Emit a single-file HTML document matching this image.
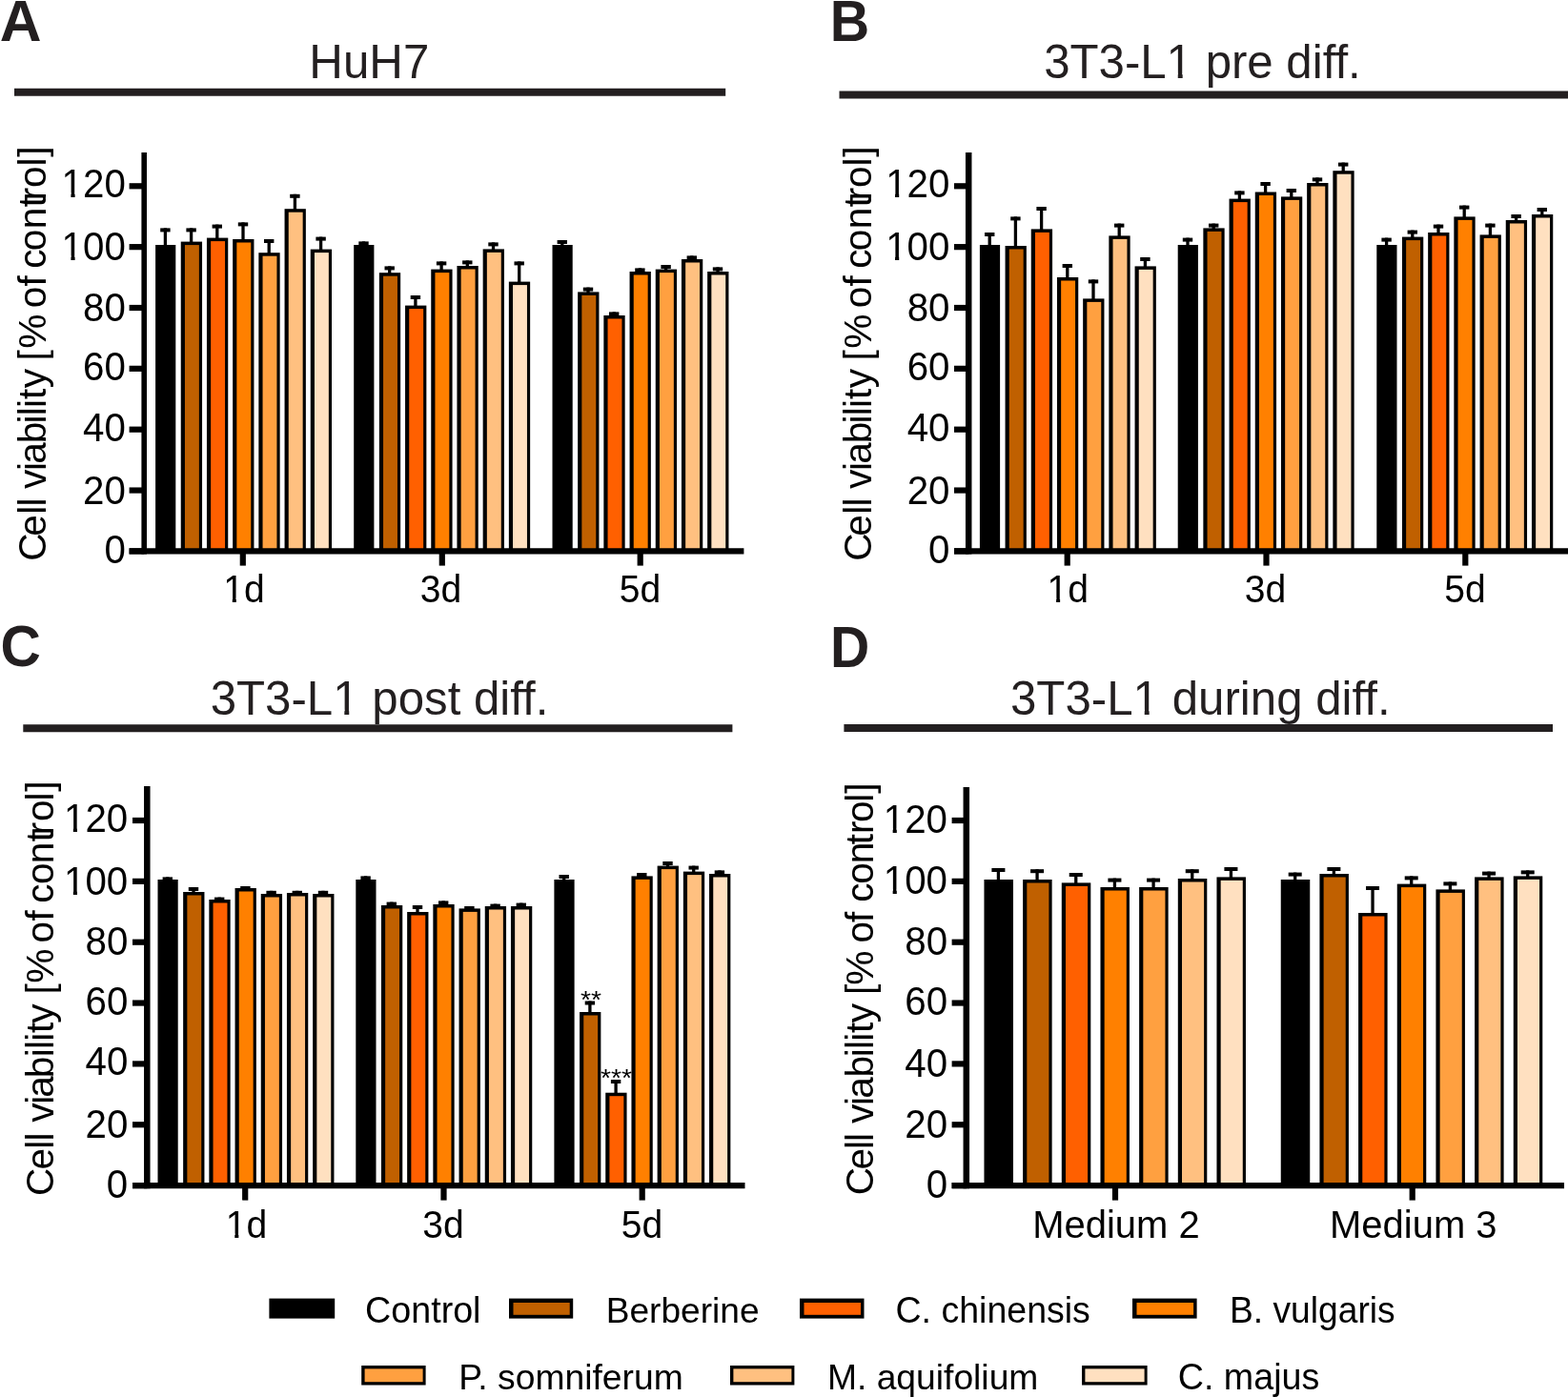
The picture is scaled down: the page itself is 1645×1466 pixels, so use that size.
<!DOCTYPE html>
<html lang="en">
<head>
<meta charset="utf-8">
<title>Cell viability</title>
<style>
html,body{margin:0;padding:0;background:#fff;}
body{width:1645px;height:1466px;overflow:hidden;}
svg{display:block;font-family:"Liberation Sans", sans-serif;}
svg text{white-space:pre;}
</style>
</head>
<body>
<svg width="1645" height="1466" viewBox="0 0 1645 1466">
<defs>
<clipPath id="c1" clipPathUnits="userSpaceOnUse"><rect x="-40.3" y="-48.36" width="147.84" height="43.75"/><rect x="-40.3" y="-5.61" width="42.07" height="20.15"/><rect x="9.83" y="-5.61" width="4.16" height="20.15"/><rect x="21.74" y="-5.61" width="85.79" height="20.15"/></clipPath>
<clipPath id="c2" clipPathUnits="userSpaceOnUse"><rect x="-40.3" y="-48.36" width="147.84" height="43.75"/><rect x="-40.3" y="-5.61" width="42.07" height="20.15"/><rect x="9.83" y="-5.61" width="4.16" height="20.15"/><rect x="21.74" y="-5.61" width="85.79" height="20.15"/></clipPath>
<clipPath id="c3" clipPathUnits="userSpaceOnUse"><rect x="-40.3" y="-48.36" width="125.43" height="43.75"/><rect x="-40.3" y="-5.61" width="42.07" height="20.15"/><rect x="9.83" y="-5.61" width="4.16" height="20.15"/><rect x="21.74" y="-5.61" width="63.38" height="20.15"/></clipPath>
<clipPath id="c4" clipPathUnits="userSpaceOnUse"><rect x="-49.5" y="-59.4" width="434.67" height="54.1"/><rect x="-49.5" y="-6.3" width="180.98" height="24.75"/><rect x="141.46" y="-6.3" width="4.97" height="24.75"/><rect x="156.02" y="-6.3" width="229.16" height="24.75"/></clipPath>
<clipPath id="c5" clipPathUnits="userSpaceOnUse"><rect x="-49.5" y="-59.4" width="456.69" height="54.1"/><rect x="-49.5" y="-6.3" width="180.98" height="24.75"/><rect x="141.46" y="-6.3" width="4.97" height="24.75"/><rect x="156.02" y="-6.3" width="251.17" height="24.75"/></clipPath>
<clipPath id="c6" clipPathUnits="userSpaceOnUse"><rect x="-49.5" y="-59.4" width="500.73" height="54.1"/><rect x="-49.5" y="-6.3" width="180.98" height="24.75"/><rect x="141.46" y="-6.3" width="4.97" height="24.75"/><rect x="156.02" y="-6.3" width="295.21" height="24.75"/></clipPath>
</defs>
<rect x="0" y="0" width="1645" height="1466" fill="#ffffff"/>
<g id="panel-A">
<rect x="163.1" y="257" width="21.2" height="321.4" fill="#000000"/>
<rect x="171.75" y="239.4" width="3.3" height="18.6" fill="#000"/>
<rect x="168.2" y="239.4" width="10.4" height="4" fill="#000"/>
<rect x="189.75" y="253.6" width="22.3" height="324.8" fill="#000000"/>
<rect x="193.95" y="257.1" width="14.9" height="321.3" fill="#C06000"/>
<rect x="198.95" y="239.4" width="3.3" height="15.2" fill="#000"/>
<rect x="195.4" y="239.4" width="10.4" height="4" fill="#000"/>
<rect x="216.95" y="249.6" width="22.3" height="328.8" fill="#000000"/>
<rect x="221.15" y="253.1" width="14.9" height="325.3" fill="#FF6000"/>
<rect x="226.15" y="235.6" width="3.3" height="15" fill="#000"/>
<rect x="222.6" y="235.6" width="10.4" height="4" fill="#000"/>
<rect x="244.15" y="251" width="22.3" height="327.4" fill="#000000"/>
<rect x="248.35" y="254.5" width="14.9" height="323.9" fill="#FF8000"/>
<rect x="253.35" y="233.4" width="3.3" height="18.6" fill="#000"/>
<rect x="249.8" y="233.4" width="10.4" height="4" fill="#000"/>
<rect x="271.35" y="265.2" width="22.3" height="313.2" fill="#000000"/>
<rect x="275.55" y="268.7" width="14.9" height="309.7" fill="#FFA040"/>
<rect x="280.55" y="251" width="3.3" height="15.2" fill="#000"/>
<rect x="277" y="251" width="10.4" height="4" fill="#000"/>
<rect x="298.55" y="219.2" width="22.3" height="359.2" fill="#000000"/>
<rect x="302.75" y="222.7" width="14.9" height="355.7" fill="#FFC080"/>
<rect x="307.75" y="203.8" width="3.3" height="16.4" fill="#000"/>
<rect x="304.2" y="203.8" width="10.4" height="4" fill="#000"/>
<rect x="325.75" y="261.6" width="22.3" height="316.8" fill="#000000"/>
<rect x="329.95" y="265.1" width="14.9" height="313.3" fill="#FFE0C0"/>
<rect x="334.95" y="248.6" width="3.3" height="14" fill="#000"/>
<rect x="331.4" y="248.6" width="10.4" height="4" fill="#000"/>
<rect x="371.2" y="257" width="21.2" height="321.4" fill="#000000"/>
<rect x="379.85" y="253.4" width="3.3" height="4.6" fill="#000"/>
<rect x="376.3" y="253.4" width="10.4" height="4" fill="#000"/>
<rect x="397.85" y="286.2" width="22.3" height="292.2" fill="#000000"/>
<rect x="402.05" y="289.7" width="14.9" height="288.7" fill="#C06000"/>
<rect x="407.05" y="279.4" width="3.3" height="7.8" fill="#000"/>
<rect x="403.5" y="279.4" width="10.4" height="4" fill="#000"/>
<rect x="425.05" y="320.6" width="22.3" height="257.8" fill="#000000"/>
<rect x="429.25" y="324.1" width="14.9" height="254.3" fill="#FF6000"/>
<rect x="434.25" y="310" width="3.3" height="11.6" fill="#000"/>
<rect x="430.7" y="310" width="10.4" height="4" fill="#000"/>
<rect x="452.25" y="282.6" width="22.3" height="295.8" fill="#000000"/>
<rect x="456.45" y="286.1" width="14.9" height="292.3" fill="#FF8000"/>
<rect x="461.45" y="274.4" width="3.3" height="9.2" fill="#000"/>
<rect x="457.9" y="274.4" width="10.4" height="4" fill="#000"/>
<rect x="479.45" y="279" width="22.3" height="299.4" fill="#000000"/>
<rect x="483.65" y="282.5" width="14.9" height="295.9" fill="#FFA040"/>
<rect x="488.65" y="273.4" width="3.3" height="6.6" fill="#000"/>
<rect x="485.1" y="273.4" width="10.4" height="4" fill="#000"/>
<rect x="506.65" y="261.4" width="22.3" height="317" fill="#000000"/>
<rect x="510.85" y="264.9" width="14.9" height="313.5" fill="#FFC080"/>
<rect x="515.85" y="254.4" width="3.3" height="8" fill="#000"/>
<rect x="512.3" y="254.4" width="10.4" height="4" fill="#000"/>
<rect x="533.85" y="295.6" width="22.3" height="282.8" fill="#000000"/>
<rect x="538.05" y="299.1" width="14.9" height="279.3" fill="#FFE0C0"/>
<rect x="543.05" y="274.4" width="3.3" height="22.2" fill="#000"/>
<rect x="539.5" y="274.4" width="10.4" height="4" fill="#000"/>
<rect x="579.5" y="257" width="21.2" height="321.4" fill="#000000"/>
<rect x="588.15" y="252" width="3.3" height="6" fill="#000"/>
<rect x="584.6" y="252" width="10.4" height="4" fill="#000"/>
<rect x="606.15" y="306.4" width="22.3" height="272" fill="#000000"/>
<rect x="610.35" y="309.9" width="14.9" height="268.5" fill="#C06000"/>
<rect x="615.35" y="301.6" width="3.3" height="5.8" fill="#000"/>
<rect x="611.8" y="301.6" width="10.4" height="4" fill="#000"/>
<rect x="633.35" y="331" width="22.3" height="247.4" fill="#000000"/>
<rect x="637.55" y="334.5" width="14.9" height="243.9" fill="#FF6000"/>
<rect x="642.55" y="327.4" width="3.3" height="4.6" fill="#000"/>
<rect x="639" y="327.4" width="10.4" height="4" fill="#000"/>
<rect x="660.55" y="285" width="22.3" height="293.4" fill="#000000"/>
<rect x="664.75" y="288.5" width="14.9" height="289.9" fill="#FF8000"/>
<rect x="669.75" y="281.4" width="3.3" height="4.6" fill="#000"/>
<rect x="666.2" y="281.4" width="10.4" height="4" fill="#000"/>
<rect x="687.75" y="282.6" width="22.3" height="295.8" fill="#000000"/>
<rect x="691.95" y="286.1" width="14.9" height="292.3" fill="#FFA040"/>
<rect x="696.95" y="278" width="3.3" height="5.6" fill="#000"/>
<rect x="693.4" y="278" width="10.4" height="4" fill="#000"/>
<rect x="714.95" y="272" width="22.3" height="306.4" fill="#000000"/>
<rect x="719.15" y="275.5" width="14.9" height="302.9" fill="#FFC080"/>
<rect x="724.15" y="268.4" width="3.3" height="4.6" fill="#000"/>
<rect x="720.6" y="268.4" width="10.4" height="4" fill="#000"/>
<rect x="742.15" y="285" width="22.3" height="293.4" fill="#000000"/>
<rect x="746.35" y="288.5" width="14.9" height="289.9" fill="#FFE0C0"/>
<rect x="751.35" y="280.4" width="3.3" height="5.6" fill="#000"/>
<rect x="747.8" y="280.4" width="10.4" height="4" fill="#000"/>
<line x1="135.6" y1="578.4" x2="780.4" y2="578.4" stroke="#000" stroke-width="6.2"/>
<line x1="151.2" y1="160" x2="151.2" y2="581.5" stroke="#000" stroke-width="5.6"/>
<line x1="135.6" y1="578.4" x2="151.2" y2="578.4" stroke="#000" stroke-width="6.2"/>
<text transform="translate(109.44,591) scale(1.0000,1.0550)" font-size="40.3" fill="#000">0</text>
<line x1="135.6" y1="514.55" x2="151.2" y2="514.55" stroke="#000" stroke-width="6.2"/>
<text transform="translate(87.08,529) scale(1.0000,1.0550)" font-size="40.3" fill="#000">20</text>
<line x1="135.6" y1="450.7" x2="151.2" y2="450.7" stroke="#000" stroke-width="6.2"/>
<text transform="translate(87.08,463) scale(1.0000,1.0550)" font-size="40.3" fill="#000">40</text>
<line x1="135.6" y1="386.85" x2="151.2" y2="386.85" stroke="#000" stroke-width="6.2"/>
<text transform="translate(87.08,399) scale(1.0000,1.0550)" font-size="40.3" fill="#000">60</text>
<line x1="135.6" y1="323" x2="151.2" y2="323" stroke="#000" stroke-width="6.2"/>
<text transform="translate(87.08,337) scale(1.0000,1.0550)" font-size="40.3" fill="#000">80</text>
<line x1="135.6" y1="259.15" x2="151.2" y2="259.15" stroke="#000" stroke-width="6.2"/>
<text transform="translate(64.61,273) scale(1.0000,1.0550)" font-size="40.3" fill="#000" clip-path="url(#c1)">100</text>
<line x1="135.6" y1="195.3" x2="151.2" y2="195.3" stroke="#000" stroke-width="6.2"/>
<text transform="translate(64.61,207) scale(1.0000,1.0550)" font-size="40.3" fill="#000" clip-path="url(#c2)">120</text>
<line x1="254.8" y1="578.4" x2="254.8" y2="593.6" stroke="#000" stroke-width="6.2"/>
<text transform="translate(234.26,632) scale(0.9700,1.0100)" font-size="40.3" fill="#000" clip-path="url(#c3)">1d</text>
<line x1="463.8" y1="578.4" x2="463.8" y2="593.6" stroke="#000" stroke-width="6.2"/>
<text transform="translate(440.79,632) scale(0.9700,1.0100)" font-size="40.3" fill="#000">3d</text>
<line x1="671.7" y1="578.4" x2="671.7" y2="593.6" stroke="#000" stroke-width="6.2"/>
<text transform="translate(649.74,632) scale(0.9700,1.0100)" font-size="40.3" fill="#000">5d</text>
<text transform="translate(47.9,0) rotate(-90) scale(1.0,1.02)" x="-588.82 -562.72 -539.82 -531.59 -522.57 -512.95 -493.97 -486.78 -465.22 -444.44 -436.22 -427.94 -419.09 -407.35 -387.05 -378.45 -365.87 -329.77 -323.22 -300.59 -289.31 -281.83 -263.32 -240.27 -217.14 -210.22 -197.07 -174.52 -164.86" y="0" font-size="40.6" fill="#000">Cell viability [% of control]</text>
<text transform="translate(324.33,82) scale(0.9957,1.0150)" font-size="49.5" fill="#231f20">HuH7</text>
<line x1="15" y1="96.8" x2="761.2" y2="96.8" stroke="#231f20" stroke-width="8"/>
<text transform="translate(-0.31,43) scale(1.0016,1.0000)" font-size="60.5" fill="#231f20" font-weight="bold">A</text>
</g>
<g id="panel-B">
<rect x="1027.9" y="257" width="21.2" height="321.4" fill="#000000"/>
<rect x="1036.55" y="244" width="3.3" height="14" fill="#000"/>
<rect x="1033" y="244" width="10.4" height="4" fill="#000"/>
<rect x="1054.55" y="258" width="22.3" height="320.4" fill="#000000"/>
<rect x="1058.75" y="261.5" width="14.9" height="316.9" fill="#C06000"/>
<rect x="1063.75" y="227.4" width="3.3" height="31.6" fill="#000"/>
<rect x="1060.2" y="227.4" width="10.4" height="4" fill="#000"/>
<rect x="1081.75" y="240.4" width="22.3" height="338" fill="#000000"/>
<rect x="1085.95" y="243.9" width="14.9" height="334.5" fill="#FF6000"/>
<rect x="1090.95" y="217" width="3.3" height="24.4" fill="#000"/>
<rect x="1087.4" y="217" width="10.4" height="4" fill="#000"/>
<rect x="1108.95" y="291" width="22.3" height="287.4" fill="#000000"/>
<rect x="1113.15" y="294.5" width="14.9" height="283.9" fill="#FF8000"/>
<rect x="1118.15" y="277" width="3.3" height="15" fill="#000"/>
<rect x="1114.6" y="277" width="10.4" height="4" fill="#000"/>
<rect x="1136.15" y="313.4" width="22.3" height="265" fill="#000000"/>
<rect x="1140.35" y="316.9" width="14.9" height="261.5" fill="#FFA040"/>
<rect x="1145.35" y="293.4" width="3.3" height="21" fill="#000"/>
<rect x="1141.8" y="293.4" width="10.4" height="4" fill="#000"/>
<rect x="1163.35" y="247.4" width="22.3" height="331" fill="#000000"/>
<rect x="1167.55" y="250.9" width="14.9" height="327.5" fill="#FFC080"/>
<rect x="1172.55" y="234.6" width="3.3" height="13.8" fill="#000"/>
<rect x="1169" y="234.6" width="10.4" height="4" fill="#000"/>
<rect x="1190.55" y="279.4" width="22.3" height="299" fill="#000000"/>
<rect x="1194.75" y="282.9" width="14.9" height="295.5" fill="#FFE0C0"/>
<rect x="1199.75" y="270" width="3.3" height="10.4" fill="#000"/>
<rect x="1196.2" y="270" width="10.4" height="4" fill="#000"/>
<rect x="1235.7" y="257" width="21.2" height="321.4" fill="#000000"/>
<rect x="1244.35" y="249.6" width="3.3" height="8.4" fill="#000"/>
<rect x="1240.8" y="249.6" width="10.4" height="4" fill="#000"/>
<rect x="1262.35" y="239.4" width="22.3" height="339" fill="#000000"/>
<rect x="1266.55" y="242.9" width="14.9" height="335.5" fill="#C06000"/>
<rect x="1271.55" y="234.6" width="3.3" height="5.8" fill="#000"/>
<rect x="1268" y="234.6" width="10.4" height="4" fill="#000"/>
<rect x="1289.55" y="208.6" width="22.3" height="369.8" fill="#000000"/>
<rect x="1293.75" y="212.1" width="14.9" height="366.3" fill="#FF6000"/>
<rect x="1298.75" y="200.4" width="3.3" height="9.2" fill="#000"/>
<rect x="1295.2" y="200.4" width="10.4" height="4" fill="#000"/>
<rect x="1316.75" y="201.5" width="22.3" height="376.9" fill="#000000"/>
<rect x="1320.95" y="205" width="14.9" height="373.4" fill="#FF8000"/>
<rect x="1325.95" y="191" width="3.3" height="11.5" fill="#000"/>
<rect x="1322.4" y="191" width="10.4" height="4" fill="#000"/>
<rect x="1343.95" y="206.4" width="22.3" height="372" fill="#000000"/>
<rect x="1348.15" y="209.9" width="14.9" height="368.5" fill="#FFA040"/>
<rect x="1353.15" y="198" width="3.3" height="9.4" fill="#000"/>
<rect x="1349.6" y="198" width="10.4" height="4" fill="#000"/>
<rect x="1371.15" y="192" width="22.3" height="386.4" fill="#000000"/>
<rect x="1375.35" y="195.5" width="14.9" height="382.9" fill="#FFC080"/>
<rect x="1380.35" y="186.4" width="3.3" height="6.6" fill="#000"/>
<rect x="1376.8" y="186.4" width="10.4" height="4" fill="#000"/>
<rect x="1398.35" y="179.2" width="22.3" height="399.2" fill="#000000"/>
<rect x="1402.55" y="182.7" width="14.9" height="395.7" fill="#FFE0C0"/>
<rect x="1407.55" y="170.6" width="3.3" height="9.6" fill="#000"/>
<rect x="1404" y="170.6" width="10.4" height="4" fill="#000"/>
<rect x="1444.3" y="257" width="21.2" height="321.4" fill="#000000"/>
<rect x="1452.95" y="249.6" width="3.3" height="8.4" fill="#000"/>
<rect x="1449.4" y="249.6" width="10.4" height="4" fill="#000"/>
<rect x="1470.95" y="248.6" width="22.3" height="329.8" fill="#000000"/>
<rect x="1475.15" y="252.1" width="14.9" height="326.3" fill="#C06000"/>
<rect x="1480.15" y="241.6" width="3.3" height="8" fill="#000"/>
<rect x="1476.6" y="241.6" width="10.4" height="4" fill="#000"/>
<rect x="1498.15" y="244" width="22.3" height="334.4" fill="#000000"/>
<rect x="1502.35" y="247.5" width="14.9" height="330.9" fill="#FF6000"/>
<rect x="1507.35" y="235.6" width="3.3" height="9.4" fill="#000"/>
<rect x="1503.8" y="235.6" width="10.4" height="4" fill="#000"/>
<rect x="1525.35" y="227.4" width="22.3" height="351" fill="#000000"/>
<rect x="1529.55" y="230.9" width="14.9" height="347.5" fill="#FF8000"/>
<rect x="1534.55" y="215.6" width="3.3" height="12.8" fill="#000"/>
<rect x="1531" y="215.6" width="10.4" height="4" fill="#000"/>
<rect x="1552.55" y="246.4" width="22.3" height="332" fill="#000000"/>
<rect x="1556.75" y="249.9" width="14.9" height="328.5" fill="#FFA040"/>
<rect x="1561.75" y="234.6" width="3.3" height="12.8" fill="#000"/>
<rect x="1558.2" y="234.6" width="10.4" height="4" fill="#000"/>
<rect x="1579.75" y="231" width="22.3" height="347.4" fill="#000000"/>
<rect x="1583.95" y="234.5" width="14.9" height="343.9" fill="#FFC080"/>
<rect x="1588.95" y="225" width="3.3" height="7" fill="#000"/>
<rect x="1585.4" y="225" width="10.4" height="4" fill="#000"/>
<rect x="1606.95" y="225" width="22.3" height="353.4" fill="#000000"/>
<rect x="1611.15" y="228.5" width="14.9" height="349.9" fill="#FFE0C0"/>
<rect x="1616.15" y="218" width="3.3" height="8" fill="#000"/>
<rect x="1612.6" y="218" width="10.4" height="4" fill="#000"/>
<line x1="1001" y1="578.4" x2="1645" y2="578.4" stroke="#000" stroke-width="6.2"/>
<line x1="1016.2" y1="160" x2="1016.2" y2="581.5" stroke="#000" stroke-width="6.5"/>
<line x1="1001" y1="578.4" x2="1016.2" y2="578.4" stroke="#000" stroke-width="6.2"/>
<text transform="translate(974.04,591) scale(1.0000,1.0550)" font-size="40.3" fill="#000">0</text>
<line x1="1001" y1="514.55" x2="1016.2" y2="514.55" stroke="#000" stroke-width="6.2"/>
<text transform="translate(951.68,529) scale(1.0000,1.0550)" font-size="40.3" fill="#000">20</text>
<line x1="1001" y1="450.7" x2="1016.2" y2="450.7" stroke="#000" stroke-width="6.2"/>
<text transform="translate(951.68,463) scale(1.0000,1.0550)" font-size="40.3" fill="#000">40</text>
<line x1="1001" y1="386.85" x2="1016.2" y2="386.85" stroke="#000" stroke-width="6.2"/>
<text transform="translate(951.68,399) scale(1.0000,1.0550)" font-size="40.3" fill="#000">60</text>
<line x1="1001" y1="323" x2="1016.2" y2="323" stroke="#000" stroke-width="6.2"/>
<text transform="translate(951.68,337) scale(1.0000,1.0550)" font-size="40.3" fill="#000">80</text>
<line x1="1001" y1="259.15" x2="1016.2" y2="259.15" stroke="#000" stroke-width="6.2"/>
<text transform="translate(929.21,273) scale(1.0000,1.0550)" font-size="40.3" fill="#000" clip-path="url(#c1)">100</text>
<line x1="1001" y1="195.3" x2="1016.2" y2="195.3" stroke="#000" stroke-width="6.2"/>
<text transform="translate(929.21,207) scale(1.0000,1.0550)" font-size="40.3" fill="#000" clip-path="url(#c2)">120</text>
<line x1="1119.7" y1="578.4" x2="1119.7" y2="593.6" stroke="#000" stroke-width="6.2"/>
<text transform="translate(1098.56,632) scale(0.9700,1.0100)" font-size="40.3" fill="#000" clip-path="url(#c3)">1d</text>
<line x1="1328.5" y1="578.4" x2="1328.5" y2="593.6" stroke="#000" stroke-width="6.2"/>
<text transform="translate(1305.79,632) scale(0.9700,1.0100)" font-size="40.3" fill="#000">3d</text>
<line x1="1537.3" y1="578.4" x2="1537.3" y2="593.6" stroke="#000" stroke-width="6.2"/>
<text transform="translate(1515.24,632) scale(0.9700,1.0100)" font-size="40.3" fill="#000">5d</text>
<text transform="translate(913.5,0) rotate(-90) scale(1.0,1.02)" x="-588.82 -562.72 -539.82 -531.59 -522.57 -512.95 -493.97 -486.78 -465.22 -444.44 -436.22 -427.94 -419.09 -407.35 -387.05 -378.45 -365.87 -329.77 -323.22 -300.59 -289.31 -281.83 -263.32 -240.27 -217.14 -210.22 -197.07 -174.52 -164.86" y="0" font-size="40.6" fill="#000">Cell viability [% of control]</text>
<text transform="translate(1095.16,82) scale(0.9938,1.0000)" font-size="49.5" fill="#231f20" clip-path="url(#c4)">3T3-L1 pre diff.</text>
<line x1="880.5" y1="99.4" x2="1645" y2="99.4" stroke="#231f20" stroke-width="8"/>
<text transform="translate(870.73,43) scale(0.9484,1.0000)" font-size="60.5" fill="#231f20" font-weight="bold">B</text>
</g>
<g id="panel-C">
<rect x="165.5" y="923" width="21.2" height="321.1" fill="#000000"/>
<rect x="174.15" y="920.4" width="3.3" height="3.6" fill="#000"/>
<rect x="170.6" y="920.4" width="10.4" height="4" fill="#000"/>
<rect x="192.15" y="936" width="22.3" height="308.1" fill="#000000"/>
<rect x="196.35" y="939.5" width="14.9" height="304.6" fill="#C06000"/>
<rect x="201.35" y="931" width="3.3" height="6" fill="#000"/>
<rect x="197.8" y="931" width="10.4" height="4" fill="#000"/>
<rect x="219.35" y="944" width="22.3" height="300.1" fill="#000000"/>
<rect x="223.55" y="947.5" width="14.9" height="296.6" fill="#FF6000"/>
<rect x="228.55" y="941.6" width="3.3" height="3.4" fill="#000"/>
<rect x="225" y="941.6" width="10.4" height="4" fill="#000"/>
<rect x="246.55" y="932" width="22.3" height="312.1" fill="#000000"/>
<rect x="250.75" y="935.5" width="14.9" height="308.6" fill="#FF8000"/>
<rect x="255.75" y="930" width="3.3" height="3" fill="#000"/>
<rect x="252.2" y="930" width="10.4" height="4" fill="#000"/>
<rect x="273.75" y="938" width="22.3" height="306.1" fill="#000000"/>
<rect x="277.95" y="941.5" width="14.9" height="302.6" fill="#FFA040"/>
<rect x="282.95" y="934.8" width="3.3" height="4.2" fill="#000"/>
<rect x="279.4" y="934.8" width="10.4" height="4" fill="#000"/>
<rect x="300.95" y="937" width="22.3" height="307.1" fill="#000000"/>
<rect x="305.15" y="940.5" width="14.9" height="303.6" fill="#FFC080"/>
<rect x="310.15" y="934.8" width="3.3" height="3.2" fill="#000"/>
<rect x="306.6" y="934.8" width="10.4" height="4" fill="#000"/>
<rect x="328.15" y="938" width="22.3" height="306.1" fill="#000000"/>
<rect x="332.35" y="941.5" width="14.9" height="302.6" fill="#FFE0C0"/>
<rect x="337.35" y="934.8" width="3.3" height="4.2" fill="#000"/>
<rect x="333.8" y="934.8" width="10.4" height="4" fill="#000"/>
<rect x="373.3" y="923" width="21.2" height="321.1" fill="#000000"/>
<rect x="381.95" y="919.4" width="3.3" height="4.6" fill="#000"/>
<rect x="378.4" y="919.4" width="10.4" height="4" fill="#000"/>
<rect x="399.95" y="950" width="22.3" height="294.1" fill="#000000"/>
<rect x="404.15" y="953.5" width="14.9" height="290.6" fill="#C06000"/>
<rect x="409.15" y="946.6" width="3.3" height="4.4" fill="#000"/>
<rect x="405.6" y="946.6" width="10.4" height="4" fill="#000"/>
<rect x="427.15" y="957" width="22.3" height="287.1" fill="#000000"/>
<rect x="431.35" y="960.5" width="14.9" height="283.6" fill="#FF6000"/>
<rect x="436.35" y="950" width="3.3" height="8" fill="#000"/>
<rect x="432.8" y="950" width="10.4" height="4" fill="#000"/>
<rect x="454.35" y="949" width="22.3" height="295.1" fill="#000000"/>
<rect x="458.55" y="952.5" width="14.9" height="291.6" fill="#FF8000"/>
<rect x="463.55" y="945.4" width="3.3" height="4.6" fill="#000"/>
<rect x="460" y="945.4" width="10.4" height="4" fill="#000"/>
<rect x="481.55" y="953.4" width="22.3" height="290.7" fill="#000000"/>
<rect x="485.75" y="956.9" width="14.9" height="287.2" fill="#FFA040"/>
<rect x="490.75" y="951" width="3.3" height="3.4" fill="#000"/>
<rect x="487.2" y="951" width="10.4" height="4" fill="#000"/>
<rect x="508.75" y="951" width="22.3" height="293.1" fill="#000000"/>
<rect x="512.95" y="954.5" width="14.9" height="289.6" fill="#FFC080"/>
<rect x="517.95" y="948.6" width="3.3" height="3.4" fill="#000"/>
<rect x="514.4" y="948.6" width="10.4" height="4" fill="#000"/>
<rect x="535.95" y="951" width="22.3" height="293.1" fill="#000000"/>
<rect x="540.15" y="954.5" width="14.9" height="289.6" fill="#FFE0C0"/>
<rect x="545.15" y="947.6" width="3.3" height="4.4" fill="#000"/>
<rect x="541.6" y="947.6" width="10.4" height="4" fill="#000"/>
<rect x="581.4" y="923" width="21.2" height="321.1" fill="#000000"/>
<rect x="590.05" y="918" width="3.3" height="6" fill="#000"/>
<rect x="586.5" y="918" width="10.4" height="4" fill="#000"/>
<rect x="608.05" y="1062" width="22.3" height="182.1" fill="#000000"/>
<rect x="612.25" y="1065.5" width="14.9" height="178.6" fill="#C06000"/>
<rect x="617.25" y="1050.5" width="3.3" height="12.5" fill="#000"/>
<rect x="613.7" y="1050.5" width="10.4" height="4" fill="#000"/>
<rect x="635.25" y="1146.7" width="22.3" height="97.4" fill="#000000"/>
<rect x="639.45" y="1150.2" width="14.9" height="93.9" fill="#FF6000"/>
<rect x="644.45" y="1133" width="3.3" height="14.7" fill="#000"/>
<rect x="640.9" y="1133" width="10.4" height="4" fill="#000"/>
<rect x="662.45" y="919.4" width="22.3" height="324.7" fill="#000000"/>
<rect x="666.65" y="922.9" width="14.9" height="321.2" fill="#FF8000"/>
<rect x="671.65" y="916" width="3.3" height="4.4" fill="#000"/>
<rect x="668.1" y="916" width="10.4" height="4" fill="#000"/>
<rect x="689.65" y="908.6" width="22.3" height="335.5" fill="#000000"/>
<rect x="693.85" y="912.1" width="14.9" height="332" fill="#FFA040"/>
<rect x="698.85" y="904" width="3.3" height="5.6" fill="#000"/>
<rect x="695.3" y="904" width="10.4" height="4" fill="#000"/>
<rect x="716.85" y="914.6" width="22.3" height="329.5" fill="#000000"/>
<rect x="721.05" y="918.1" width="14.9" height="326" fill="#FFC080"/>
<rect x="726.05" y="908.6" width="3.3" height="7" fill="#000"/>
<rect x="722.5" y="908.6" width="10.4" height="4" fill="#000"/>
<rect x="744.05" y="917" width="22.3" height="327.1" fill="#000000"/>
<rect x="748.25" y="920.5" width="14.9" height="323.6" fill="#FFE0C0"/>
<rect x="753.25" y="913.4" width="3.3" height="4.6" fill="#000"/>
<rect x="749.7" y="913.4" width="10.4" height="4" fill="#000"/>
<line x1="139" y1="1244.1" x2="781.5" y2="1244.1" stroke="#000" stroke-width="6.2"/>
<line x1="154.3" y1="825" x2="154.3" y2="1247.2" stroke="#000" stroke-width="6.5"/>
<line x1="139" y1="1244.1" x2="154.3" y2="1244.1" stroke="#000" stroke-width="6.2"/>
<text transform="translate(111.84,1257) scale(1.0000,1.0550)" font-size="40.3" fill="#000">0</text>
<line x1="139" y1="1180.25" x2="154.3" y2="1180.25" stroke="#000" stroke-width="6.2"/>
<text transform="translate(89.48,1194) scale(1.0000,1.0550)" font-size="40.3" fill="#000">20</text>
<line x1="139" y1="1116.4" x2="154.3" y2="1116.4" stroke="#000" stroke-width="6.2"/>
<text transform="translate(89.48,1128) scale(1.0000,1.0550)" font-size="40.3" fill="#000">40</text>
<line x1="139" y1="1052.55" x2="154.3" y2="1052.55" stroke="#000" stroke-width="6.2"/>
<text transform="translate(89.48,1065) scale(1.0000,1.0550)" font-size="40.3" fill="#000">60</text>
<line x1="139" y1="988.7" x2="154.3" y2="988.7" stroke="#000" stroke-width="6.2"/>
<text transform="translate(89.48,1002) scale(1.0000,1.0550)" font-size="40.3" fill="#000">80</text>
<line x1="139" y1="924.85" x2="154.3" y2="924.85" stroke="#000" stroke-width="6.2"/>
<text transform="translate(67.01,939) scale(1.0000,1.0550)" font-size="40.3" fill="#000" clip-path="url(#c1)">100</text>
<line x1="139" y1="861" x2="154.3" y2="861" stroke="#000" stroke-width="6.2"/>
<text transform="translate(67.01,873) scale(1.0000,1.0550)" font-size="40.3" fill="#000" clip-path="url(#c2)">120</text>
<line x1="257.2" y1="1244.1" x2="257.2" y2="1259.6" stroke="#000" stroke-width="6.2"/>
<text transform="translate(236.76,1299) scale(0.9700,1.0100)" font-size="40.3" fill="#000" clip-path="url(#c3)">1d</text>
<line x1="465.5" y1="1244.1" x2="465.5" y2="1259.6" stroke="#000" stroke-width="6.2"/>
<text transform="translate(443.29,1299) scale(0.9700,1.0100)" font-size="40.3" fill="#000">3d</text>
<line x1="673.7" y1="1244.1" x2="673.7" y2="1259.6" stroke="#000" stroke-width="6.2"/>
<text transform="translate(651.84,1299) scale(0.9700,1.0100)" font-size="40.3" fill="#000">5d</text>
<text transform="translate(56,0) rotate(-90) scale(1.0,1.02)" x="-1255.02 -1227.62 -1205.82 -1197.59 -1188.57 -1177.75 -1158.87 -1151.68 -1131.22 -1109.34 -1101.12 -1092.84 -1083.99 -1073.65 -1053.35 -1043.55 -1031.87 -995.77 -989.52 -966.59 -955.31 -947.83 -928.02 -906.27 -883.14 -876.22 -862.07 -840.52 -830.86" y="0" font-size="40.6" fill="#000">Cell viability [% of control]</text>
<text transform="translate(220.65,750) scale(0.9944,1.0000)" font-size="49.5" fill="#231f20" clip-path="url(#c5)">3T3-L1 post diff.</text>
<line x1="24.3" y1="764.2" x2="768.4" y2="764.2" stroke="#231f20" stroke-width="8"/>
<text transform="translate(0.55,699) scale(0.9690,1.0000)" font-size="60.5" fill="#231f20" font-weight="bold">C</text>
</g>
<g id="panel-D">
<rect x="1032.45" y="923" width="30.5" height="321.1" fill="#000000"/>
<rect x="1045.75" y="911" width="3.3" height="13" fill="#000"/>
<rect x="1040.4" y="911" width="14" height="4" fill="#000"/>
<rect x="1073.12" y="923" width="30.5" height="321.1" fill="#000000"/>
<rect x="1077.32" y="926.5" width="23.1" height="317.6" fill="#C06000"/>
<rect x="1086.42" y="912.2" width="3.3" height="11.8" fill="#000"/>
<rect x="1081.07" y="912.2" width="14" height="4" fill="#000"/>
<rect x="1113.79" y="926.4" width="30.5" height="317.7" fill="#000000"/>
<rect x="1117.99" y="929.9" width="23.1" height="314.2" fill="#FF6000"/>
<rect x="1127.09" y="916" width="3.3" height="11.4" fill="#000"/>
<rect x="1121.74" y="916" width="14" height="4" fill="#000"/>
<rect x="1154.46" y="931" width="30.5" height="313.1" fill="#000000"/>
<rect x="1158.66" y="934.5" width="23.1" height="309.6" fill="#FF8000"/>
<rect x="1167.76" y="921.6" width="3.3" height="10.4" fill="#000"/>
<rect x="1162.41" y="921.6" width="14" height="4" fill="#000"/>
<rect x="1195.13" y="931" width="30.5" height="313.1" fill="#000000"/>
<rect x="1199.33" y="934.5" width="23.1" height="309.6" fill="#FFA040"/>
<rect x="1208.43" y="921.6" width="3.3" height="10.4" fill="#000"/>
<rect x="1203.08" y="921.6" width="14" height="4" fill="#000"/>
<rect x="1235.8" y="922" width="30.5" height="322.1" fill="#000000"/>
<rect x="1240" y="925.5" width="23.1" height="318.6" fill="#FFC080"/>
<rect x="1249.1" y="912.2" width="3.3" height="10.8" fill="#000"/>
<rect x="1243.75" y="912.2" width="14" height="4" fill="#000"/>
<rect x="1276.47" y="920.4" width="30.5" height="323.7" fill="#000000"/>
<rect x="1280.67" y="923.9" width="23.1" height="320.2" fill="#FFE0C0"/>
<rect x="1289.77" y="910" width="3.3" height="11.4" fill="#000"/>
<rect x="1284.42" y="910" width="14" height="4" fill="#000"/>
<rect x="1343.75" y="923" width="30.5" height="321.1" fill="#000000"/>
<rect x="1357.05" y="915.6" width="3.3" height="8.4" fill="#000"/>
<rect x="1351.7" y="915.6" width="14" height="4" fill="#000"/>
<rect x="1384.42" y="917" width="30.5" height="327.1" fill="#000000"/>
<rect x="1388.62" y="920.5" width="23.1" height="323.6" fill="#C06000"/>
<rect x="1397.72" y="910" width="3.3" height="8" fill="#000"/>
<rect x="1392.37" y="910" width="14" height="4" fill="#000"/>
<rect x="1425.09" y="958" width="30.5" height="286.1" fill="#000000"/>
<rect x="1429.29" y="961.5" width="23.1" height="282.6" fill="#FF6000"/>
<rect x="1438.39" y="930" width="3.3" height="29" fill="#000"/>
<rect x="1433.04" y="930" width="14" height="4" fill="#000"/>
<rect x="1465.76" y="927.6" width="30.5" height="316.5" fill="#000000"/>
<rect x="1469.96" y="931.1" width="23.1" height="313" fill="#FF8000"/>
<rect x="1479.06" y="919.4" width="3.3" height="9.2" fill="#000"/>
<rect x="1473.71" y="919.4" width="14" height="4" fill="#000"/>
<rect x="1506.43" y="933.4" width="30.5" height="310.7" fill="#000000"/>
<rect x="1510.63" y="936.9" width="23.1" height="307.2" fill="#FFA040"/>
<rect x="1519.73" y="925.4" width="3.3" height="9" fill="#000"/>
<rect x="1514.38" y="925.4" width="14" height="4" fill="#000"/>
<rect x="1547.1" y="920.4" width="30.5" height="323.7" fill="#000000"/>
<rect x="1551.3" y="923.9" width="23.1" height="320.2" fill="#FFC080"/>
<rect x="1560.4" y="914.6" width="3.3" height="6.8" fill="#000"/>
<rect x="1555.05" y="914.6" width="14" height="4" fill="#000"/>
<rect x="1587.77" y="919.4" width="30.5" height="324.7" fill="#000000"/>
<rect x="1591.97" y="922.9" width="23.1" height="321.2" fill="#FFE0C0"/>
<rect x="1601.07" y="913.4" width="3.3" height="7" fill="#000"/>
<rect x="1595.72" y="913.4" width="14" height="4" fill="#000"/>
<line x1="998.6" y1="1244.1" x2="1641" y2="1244.1" stroke="#000" stroke-width="6.2"/>
<line x1="1013.8" y1="826" x2="1013.8" y2="1247.2" stroke="#000" stroke-width="6.5"/>
<line x1="998.6" y1="1244.1" x2="1013.8" y2="1244.1" stroke="#000" stroke-width="6.2"/>
<text transform="translate(971.64,1257) scale(1.0000,1.0550)" font-size="40.3" fill="#000">0</text>
<line x1="998.6" y1="1180.25" x2="1013.8" y2="1180.25" stroke="#000" stroke-width="6.2"/>
<text transform="translate(949.28,1194) scale(1.0000,1.0550)" font-size="40.3" fill="#000">20</text>
<line x1="998.6" y1="1116.4" x2="1013.8" y2="1116.4" stroke="#000" stroke-width="6.2"/>
<text transform="translate(949.28,1130) scale(1.0000,1.0550)" font-size="40.3" fill="#000">40</text>
<line x1="998.6" y1="1052.55" x2="1013.8" y2="1052.55" stroke="#000" stroke-width="6.2"/>
<text transform="translate(949.28,1065) scale(1.0000,1.0550)" font-size="40.3" fill="#000">60</text>
<line x1="998.6" y1="988.7" x2="1013.8" y2="988.7" stroke="#000" stroke-width="6.2"/>
<text transform="translate(949.28,1002) scale(1.0000,1.0550)" font-size="40.3" fill="#000">80</text>
<line x1="998.6" y1="924.85" x2="1013.8" y2="924.85" stroke="#000" stroke-width="6.2"/>
<text transform="translate(926.81,938) scale(1.0000,1.0550)" font-size="40.3" fill="#000" clip-path="url(#c1)">100</text>
<line x1="998.6" y1="861" x2="1013.8" y2="861" stroke="#000" stroke-width="6.2"/>
<text transform="translate(926.81,874) scale(1.0000,1.0550)" font-size="40.3" fill="#000" clip-path="url(#c2)">120</text>
<line x1="1170" y1="1244.1" x2="1170" y2="1259.6" stroke="#000" stroke-width="6.2"/>
<text transform="translate(1083.2,1299) scale(0.9920,1.0000)" font-size="40.3" fill="#000">Medium 2</text>
<line x1="1481.7" y1="1244.1" x2="1481.7" y2="1259.6" stroke="#000" stroke-width="6.2"/>
<text transform="translate(1395.05,1299) scale(0.9920,1.0000)" font-size="40.3" fill="#000">Medium 3</text>
<text transform="translate(915.8,0) rotate(-90) scale(1.0,1.02)" x="-1254.22 -1227.62 -1206.02 -1197.89 -1188.87 -1178.95 -1159.97 -1152.78 -1130.62 -1109.34 -1101.12 -1092.84 -1083.99 -1073.35 -1053.05 -1044.05 -1033.77 -997.67 -989.52 -967.89 -956.61 -946.73 -927.72 -906.27 -886.14 -874.92 -863.07 -841.82 -832.76" y="0" font-size="40.6" fill="#000">Cell viability [% of control]</text>
<text transform="translate(1059.95,750) scale(0.9951,1.0000)" font-size="49.5" fill="#231f20" clip-path="url(#c6)">3T3-L1 during diff.</text>
<line x1="885.4" y1="764" x2="1629" y2="764" stroke="#231f20" stroke-width="8"/>
<text transform="translate(870.94,700) scale(0.9445,1.0000)" font-size="60.5" fill="#231f20" font-weight="bold">D</text>
</g>
<g id="stars">
<text transform="translate(608.96,1058) scale(1.0000,0.9300)" font-size="28.3" fill="#000">**</text>
<text transform="translate(629.88,1140) scale(1.0000,0.9300)" font-size="28.3" fill="#000">***</text>
</g>
<g id="legend">
<rect x="282.4" y="1362.6" width="68.8" height="21" fill="#000000"/>
<text transform="translate(383.12,1388) scale(1.0094,1.0150)" font-size="37.3" fill="#000">Control</text>
<rect x="534" y="1362.6" width="67.2" height="21" fill="#000000"/>
<rect x="538.5" y="1367" width="59.2" height="12.8" fill="#C06000"/>
<text transform="translate(635.74,1388) scale(0.9947,1.0150)" font-size="37.3" fill="#000">Berberine</text>
<rect x="839" y="1362.6" width="67.5" height="21" fill="#000000"/>
<rect x="843.5" y="1367" width="59.5" height="12.8" fill="#FF6000"/>
<text transform="translate(939.52,1388) scale(1.0059,1.0150)" font-size="37.3" fill="#000">C. chinensis</text>
<rect x="1188" y="1362.6" width="67.6" height="21" fill="#000000"/>
<rect x="1192.5" y="1367" width="59.6" height="12.8" fill="#FF8000"/>
<text transform="translate(1289.93,1388) scale(0.9981,1.0150)" font-size="37.3" fill="#000">B. vulgaris</text>
<rect x="379.2" y="1433" width="67.4" height="20.5" fill="#000000"/>
<rect x="382.6" y="1436.4" width="61" height="13.8" fill="#FFA040"/>
<text transform="translate(481.32,1458) scale(0.9994,1.0150)" font-size="37.3" fill="#000">P. somniferum</text>
<rect x="766" y="1433" width="67.4" height="20.5" fill="#000000"/>
<rect x="769.4" y="1436.4" width="61" height="13.8" fill="#FFC080"/>
<text transform="translate(867.93,1458) scale(0.9984,1.0150)" font-size="37.3" fill="#000">M. aquifolium</text>
<rect x="1135" y="1433" width="68.6" height="20.5" fill="#000000"/>
<rect x="1138.4" y="1436.4" width="62.2" height="13.8" fill="#FFE0C0"/>
<text transform="translate(1235.72,1458) scale(1.0099,1.0150)" font-size="37.3" fill="#000">C. majus</text>
</g>
</svg>
</body>
</html>
